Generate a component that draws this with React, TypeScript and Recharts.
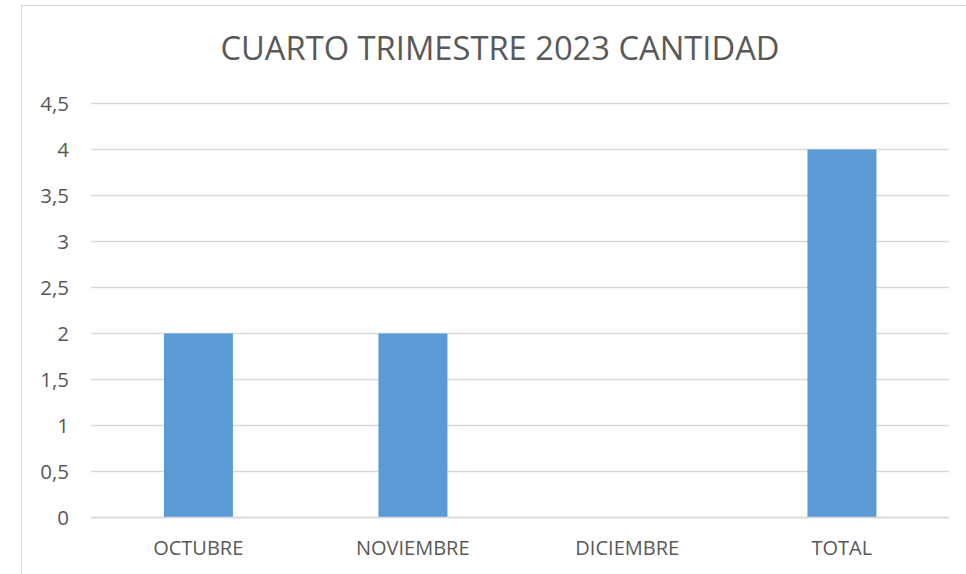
import React from "react";
import { BarChart, Bar, XAxis, YAxis, CartesianGrid } from "recharts";

const categories = ["OCTUBRE", "NOVIEMBRE", "DICIEMBRE", "TOTAL"];
const cantidad = [2, 2, 0, 4];
const yTicks = [0, 0.5, 1, 1.5, 2, 2.5, 3, 3.5, 4, 4.5];

const data = categories.map((c, i) => ({ name: c, value: cantidad[i] }));

const FONT = "'Open Sans', sans-serif";

export default function App() {
  return (
    <div style={{ position: "absolute", left: 0, top: 0, width: 966, height: 574, background: "#fff", overflow: "hidden", fontFamily: FONT }}>
      <div style={{ position: "absolute", left: 21, top: 5, width: 1000, height: 700, border: "1.5px solid #d9d9d9", boxSizing: "border-box" }} />
      <div style={{ position: "absolute", left: 0, top: 26, width: 1000, textAlign: "center", fontSize: 32.7, lineHeight: "44px", color: "#595959", fontFamily: FONT }}>
        CUARTO TRIMESTRE 2023 CANTIDAD
      </div>
      <div style={{ position: "absolute", left: 0, top: 0 }}>
        <BarChart width={966} height={574} data={data} margin={{ top: 103.5, right: 17, bottom: 26.5, left: 31 }} barCategoryGap="34%">
          <CartesianGrid vertical={false} stroke="#d9d9d9" strokeWidth={1.5} />
          <XAxis dataKey="name" height={30} axisLine={{ stroke: "#d9d9d9", strokeWidth: 1.5 }} tickLine={false} tick={{ fill: "#595959", fontSize: 20, fontFamily: FONT }} dy={15} />
          <YAxis width={60} domain={[0, 4.5]} ticks={yTicks} axisLine={false} tickLine={false} interval={0}
            tickFormatter={(v: number) => String(v).replace(".", ",")}
            tick={{ fill: "#595959", fontSize: 20.5, fontFamily: FONT }} dx={-14} />
          <Bar dataKey="value" fill="#5b9bd5" isAnimationActive={false} />
        </BarChart>
      </div>
    </div>
  );
}
